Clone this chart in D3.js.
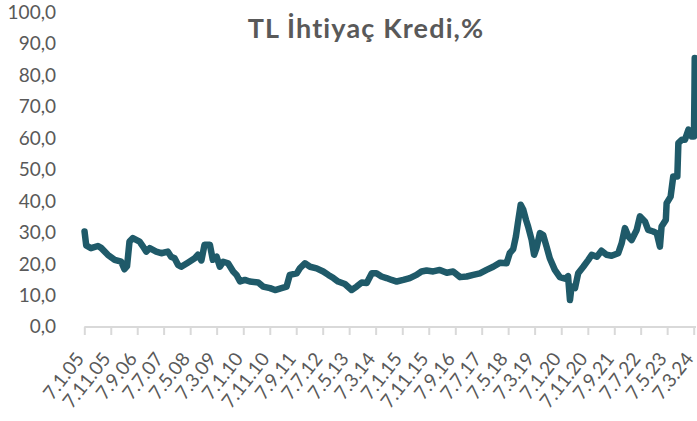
<!DOCTYPE html>
<html>
<head>
<meta charset="utf-8">
<script src="https://cdn.jsdelivr.net/npm/d3@7/dist/d3.min.js"></script>
<style>
  html, body { margin: 0; padding: 0; background: #ffffff; }
  svg { display: block; }
</style>
</head>
<body>
<svg id="chart" width="697" height="421"></svg>
<script>
const title = "TL İhtiyaç Kredi,%";

const dates = [
  "2005-01-10","2005-01-29","2005-03-25","2005-06-13","2005-07-19","2005-10-04","2005-12-22",
  "2006-03-07","2006-04-13","2006-05-13","2006-06-10","2006-07-19","2006-10-04","2006-11-13","2006-12-19",
  "2007-01-28","2007-04-13","2007-06-10","2007-08-25","2007-10-01","2007-11-10","2007-12-19",
  "2008-01-25","2008-04-10","2008-06-28","2008-08-04","2008-09-13","2008-10-19","2008-12-19",
  "2009-01-22","2009-03-07","2009-04-13","2009-05-22","2009-07-16","2009-09-13","2009-10-22","2009-12-01",
  "2010-01-25","2010-03-22","2010-06-28","2010-08-22","2010-11-10",
  "2011-01-07","2011-03-22","2011-05-19","2011-06-25","2011-09-13","2011-10-19","2011-12-16",
  "2012-02-13","2012-04-28","2012-07-13","2012-09-10","2012-11-07","2012-12-31",
  "2013-03-19","2013-06-04","2013-08-01","2013-09-28","2013-11-25",
  "2014-01-22","2014-03-16","2014-05-13","2014-07-10","2014-09-07","2014-11-04",
  "2015-01-19","2015-04-04","2015-06-19","2015-08-16","2015-10-13","2015-12-28",
  "2016-03-13","2016-06-01","2016-08-13","2016-11-01",
  "2017-01-16","2017-04-01","2017-06-16","2017-09-01","2017-11-16",
  "2018-02-04","2018-04-19","2018-05-25","2018-07-04","2018-08-04","2018-09-01","2018-09-28","2018-10-28","2018-11-28","2018-12-22",
  "2019-02-01","2019-03-01","2019-03-28","2019-05-07","2019-06-13","2019-07-22","2019-08-28","2019-10-25","2019-12-22",
  "2020-02-19","2020-03-25","2020-04-16","2020-05-04","2020-06-13","2020-07-19","2020-09-16","2020-11-13","2020-12-22",
  "2021-02-19","2021-04-13","2021-06-10","2021-08-07","2021-10-22","2021-12-01",
  "2022-01-07","2022-02-16","2022-03-25","2022-05-22","2022-06-28","2022-08-25","2022-10-01","2022-11-28",
  "2023-01-07","2023-02-13","2023-03-04","2023-04-22","2023-05-01","2023-06-16","2023-07-16","2023-09-01","2023-09-13","2023-10-22","2023-11-28",
  "2024-01-07","2024-02-13","2024-03-10","2024-03-16","2024-03-19"
];

const rates = [
  30.2,25.8,24.9,25.6,25.0,22.8,21.2,
  20.6,18.2,19.2,27.0,28.1,27.0,25.4,23.8,
  24.9,23.8,23.3,23.8,22.2,21.7,19.6,
  19.0,20.3,21.7,22.8,21.0,26.0,26.0,
  21.2,22.2,19.0,20.6,20.1,17.5,16.4,14.3,
  14.8,14.3,14.0,12.7,12.2,
  11.6,12.2,12.7,16.4,16.9,18.5,20.1,
  19.0,18.5,17.5,16.4,15.4,14.3,
  13.5,11.6,12.7,14.0,13.8,
  16.9,16.9,15.9,15.4,14.8,14.3,
  14.8,15.4,16.4,17.5,17.8,17.5,
  18.0,17.1,17.5,15.7,
  15.9,16.4,16.9,18.0,19.0,
  20.3,20.1,23.3,24.6,28.6,33.9,38.7,37.1,33.9,31.8,
  27.5,22.8,24.9,29.7,29.1,25.4,21.7,18.0,15.7,
  15.2,16.0,8.4,12.7,12.2,16.9,19.0,21.2,22.8,
  22.2,24.1,22.8,22.5,23.3,26.5,
  31.3,28.6,27.5,30.7,35.0,33.4,30.7,30.2,
  29.7,25.4,31.8,33.9,39.2,41.3,47.7,47.7,58.3,59.4,59.4,
  62.6,60.4,60.4,75.3,85.4
];

const tickLabels = ["7.1.05","7.11.05","7.9.06","7.7.07","7.5.08","7.3.09","7.1.10","7.11.10",
  "7.9.11","7.7.12","7.5.13","7.3.14","7.1.15","7.11.15","7.9.16","7.7.17","7.5.18","7.3.19",
  "7.1.20","7.11.20","7.9.21","7.7.22","7.5.23","7.3.24"];

const yTicks = [0,10,20,30,40,50,60,70,80,90,100];

const parseISO = d3.timeParse("%Y-%m-%d");
const parseTick = d3.timeParse("%d.%m.%y");
const data = dates.map((d, i) => ({date: parseISO(d), value: rates[i]}));
const tickDates = tickLabels.map(t => parseTick(t));

const svg = d3.select("#chart");
const FONT = "Lato, 'Open Sans', sans-serif";
const grey = "#595959";

const x = d3.scaleTime()
  .domain([tickDates[0], tickDates[tickDates.length - 1]])
  .range([84.3, 693.7]);
const y = d3.scaleLinear().domain([0, 100]).range([326.5, 12]);

// Y axis labels (no line)
const yAxis = d3.axisLeft(y).tickValues(yTicks).tickSize(0).tickPadding(0)
  .tickFormat(d => d3.format(".1f")(d).replace(".", ","));
const gy = svg.append("g").attr("transform", "translate(56,0)").call(yAxis);
gy.select(".domain").remove();
gy.selectAll("text").attr("font-family", FONT).attr("font-size", 19).attr("fill", grey).attr("dy", "0.34em");

// X axis
const xAxis = d3.axisBottom(x).tickValues(tickDates).tickSize(8).tickSizeOuter(0)
  .tickFormat((d, i) => tickLabels[i]);
const gx = svg.append("g").attr("transform", "translate(0,327)").call(xAxis);
gx.select(".domain").attr("stroke", "#d9d9d9").attr("stroke-width", 2)
  .attr("d", `M${x.range()[0]},0H696`);
gx.selectAll(".tick line").attr("stroke", "#d9d9d9").attr("stroke-width", 2);
gx.selectAll(".tick text")
  .attr("font-family", FONT).attr("font-size", 19).attr("fill", grey)
  .attr("text-anchor", "end")
  .attr("x", 0).attr("y", 0).attr("dy", "0.35em")
  .attr("transform", "translate(-5,28) rotate(-52)");

// Line
const line = d3.line().x(d => x(d.date)).y(d => y(d.value)).curve(d3.curveLinear);
svg.append("path").datum(data)
  .attr("fill", "none").attr("stroke", "#1f5a69").attr("stroke-width", 6.5)
  .attr("stroke-linejoin", "round").attr("stroke-linecap", "round")
  .attr("d", line);

// Title
const t = svg.append("text").attr("x", 366).attr("y", 38)
  .attr("text-anchor", "middle").attr("font-family", FONT)
  .attr("font-weight", "bold").attr("font-size", 27).attr("fill", grey)
  .text(title);
const targetW = 236;
const w = t.node().getComputedTextLength();
const n = title.length;
if (w < targetW) t.attr("letter-spacing", ((targetW - w) / (n - 1)).toFixed(2) + "px");
</script>
</body>
</html>
